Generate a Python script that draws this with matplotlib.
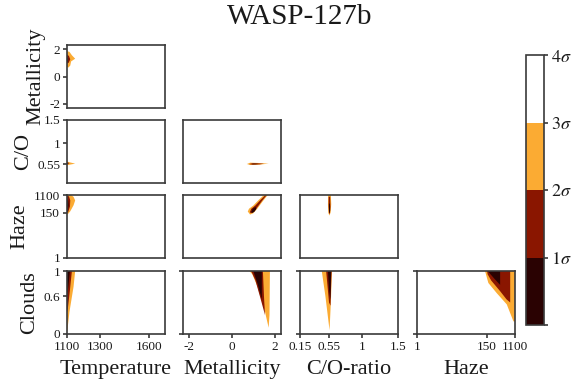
import matplotlib
matplotlib.use("Agg")
import matplotlib.pyplot as plt
from matplotlib.colors import ListedColormap, BoundaryNorm
from matplotlib.ticker import NullLocator
import matplotlib.cm as cm

plt.rcParams['font.family'] = ['Liberation Serif', 'DejaVu Serif']
plt.rcParams['mathtext.fontset'] = 'stix'

# ---------------- data ----------------
title = "WASP-127b"
params = ["Temperature", "Metallicity", "C/O-ratio", "Haze"]
row_labels = ["Metallicity", "C/O", "Haze", "Clouds"]

temp_lim = (1100, 1700)
met_lim = (-2.3, 2.3)
co_lim = (0.15, 1.5)
haze_lim = (1, 1100)
cloud_lim = (0, 1)

temp_ticks = [1100, 1300, 1600]
met_ticks = [-2, 0, 2]
co_ticks = [0.15, 0.55, 1, 1.5]
co_yticks = [0.55, 1, 1.5]
haze_ticks = [1, 150, 1100]
cloud_ticks = [0, 0.6, 1]

sigma_levels = [0, 1, 2, 3, 4]
sigma_labels = ["", r"$1\sigma$", r"$2\sigma$", r"$3\sigma$", r"$4\sigma$"]
sigma_colors = ["#2a0202", "#8a1600", "#fbab33", "#ffffff"]

# confidence-region outlines (x, y) per panel: keys are sigma levels
temp_met = {
    3: [(1100, 1.85), (1115, 1.8), (1130, 1.55), (1150, 1.3), (1125, 1.1), (1120, 0.8), (1108, 0.65), (1100, 0.7)],
    2: [(1100, 1.6), (1112, 1.5), (1120, 1.25), (1110, 1.0), (1100, 0.95)],
    1: [(1100, 1.45), (1108, 1.3), (1105, 1.1), (1100, 1.05)],
}
temp_co = {
    3: [(1100, 0.61), (1120, 0.59), (1150, 0.565), (1120, 0.545), (1100, 0.53)],
    2: [(1100, 0.595), (1115, 0.575), (1100, 0.55)],
    1: [(1100, 0.585), (1108, 0.572), (1100, 0.56)],
}
met_co = {
    3: [(0.7, 0.557), (0.85, 0.585), (1.2, 0.58), (1.72, 0.565), (1.2, 0.54), (0.85, 0.535)],
    2: [(0.8, 0.556), (0.95, 0.572), (1.3, 0.568), (1.5, 0.562), (1.3, 0.55), (0.95, 0.545)],
    1: [(0.92, 0.557), (1.02, 0.564), (1.18, 0.562), (1.25, 0.558), (1.1, 0.552), (0.98, 0.551)],
}
temp_haze = {
    3: [(1100, 1100), (1125, 1100), (1140, 900), (1150, 600), (1140, 350), (1120, 180), (1105, 130), (1100, 130)],
    2: [(1100, 1000), (1112, 950), (1120, 600), (1118, 300), (1108, 170), (1100, 150)],
    1: [(1100, 700), (1107, 600), (1110, 350), (1105, 200), (1100, 170)],
}
met_haze = {
    3: [(0.74, 175), (0.8, 240), (1.0, 340), (1.25, 630), (1.5, 1100), (1.68, 1100), (1.45, 560), (1.2, 250), (1.0, 145), (0.85, 125)],
    2: [(0.84, 165), (0.9, 235), (1.1, 345), (1.35, 650), (1.57, 1080), (1.62, 1060), (1.4, 560), (1.15, 250), (0.98, 158), (0.88, 145)],
    1: [(0.9, 165), (0.97, 235), (1.1, 290), (1.15, 240), (1.05, 170), (0.95, 150)],
}
co_haze = {
    3: [(0.538, 1100), (0.575, 1100), (0.58, 400), (0.572, 160), (0.556, 112), (0.54, 150), (0.535, 400)],
    2: [(0.545, 900), (0.565, 900), (0.57, 300), (0.562, 140), (0.55, 140), (0.544, 300)],
    1: [(0.549, 420), (0.562, 420), (0.565, 200), (0.558, 145), (0.55, 170)],
}
temp_cloud = {
    3: [(1100, 1), (1150, 1), (1140, 0.75), (1115, 0.35), (1102, 0.05), (1100, 0.05)],
    2: [(1100, 1), (1130, 1), (1118, 0.7), (1105, 0.4), (1100, 0.35)],
    1: [(1100, 1), (1118, 1), (1108, 0.75), (1100, 0.6)],
}
met_cloud = {
    3: [(0.82, 1), (1.78, 1), (1.76, 0.3), (1.72, 0.1), (1.55, 0.35), (1.2, 0.75), (0.95, 0.95)],
    2: [(0.9, 1), (1.45, 1), (1.5, 0.6), (1.55, 0.3), (1.35, 0.55), (1.1, 0.85)],
    1: [(1.0, 1), (1.4, 1), (1.4, 0.55), (1.2, 0.8)],
}
co_cloud = {
    3: [(0.45, 1), (0.59, 1), (0.575, 0.5), (0.557, 0.06), (0.5, 0.6)],
    2: [(0.51, 1), (0.585, 1), (0.57, 0.45), (0.55, 0.5)],
    1: [(0.535, 1), (0.58, 1), (0.568, 0.55), (0.55, 0.7)],
}
haze_cloud = {
    3: [(129, 1), (1100, 1), (1100, 0.2), (985, 0.2), (611, 0.47), (297, 0.65), (164, 0.81)],
    2: [(150, 1), (780, 1), (780, 0.5), (600, 0.55), (380, 0.68), (200, 0.85), (155, 0.95)],
    1: [(155, 1), (380, 1), (380, 0.78), (250, 0.88)],
}

panels = {
    (0, 0): temp_met,
    (1, 0): temp_co, (1, 1): met_co,
    (2, 0): temp_haze, (2, 1): met_haze, (2, 2): co_haze,
    (3, 0): temp_cloud, (3, 1): met_cloud, (3, 2): co_cloud, (3, 3): haze_cloud,
}

# ---------------- layout ----------------
W, H = 577, 388
fig = plt.figure(figsize=(W / 100, H / 100), dpi=100)

col_left = [67, 183, 300, 417]
row_top = [45, 120, 195, 271]
pw, ph = 98, 63

xlims = [temp_lim, met_lim, co_lim, haze_lim]
ylims = [met_lim, co_lim, haze_lim, cloud_lim]
xticks = [temp_ticks, met_ticks, co_ticks, haze_ticks]
yticks = [met_ticks, co_yticks, haze_ticks, cloud_ticks]
xlogs = [False, False, False, True]
ylogs = [False, False, True, False]

spine_c = "#3a3a3a"
text_c = "#1a1a1a"

def fmt(v):
    return ("%g" % v)

for r in range(4):
    for c in range(r + 1):
        ax = fig.add_axes([col_left[c] / W, 1 - (row_top[r] + ph) / H, pw / W, ph / H])
        if xlogs[c]:
            ax.set_xscale('log')
        if ylogs[r]:
            ax.set_yscale('log')
        data = panels[(r, c)]
        for lev, col in zip([3, 2, 1], [sigma_colors[2], sigma_colors[1], sigma_colors[0]]):
            xs = [p[0] for p in data[lev]]
            ys = [p[1] for p in data[lev]]
            ax.fill(xs, ys, color=col, lw=0, zorder=2)
        ax.set_xlim(xlims[c])
        ax.set_ylim(ylims[r])
        ax.xaxis.set_minor_locator(NullLocator())
        ax.yaxis.set_minor_locator(NullLocator())
        for s in ax.spines.values():
            s.set_color(spine_c)
            s.set_linewidth(1.2)
        ax.tick_params(direction='out', length=3, width=1.2, color=spine_c,
                       labelsize=9.5, labelcolor=text_c, pad=2)
        if r == 3:
            ax.set_xticks(xticks[c])
            ax.set_xticklabels([fmt(v) for v in xticks[c]])
            ax.set_xlabel(params[c], fontsize=16, color=text_c, labelpad=5)
        else:
            ax.set_xticks([])
        if c == 0:
            ax.set_yticks(yticks[r])
            ax.set_yticklabels([fmt(v) for v in yticks[r]])
            ax.set_ylabel(row_labels[r], fontsize=16, color=text_c, labelpad=3)
        elif r == 3:
            ax.set_yticks([0, 1])
            ax.set_yticklabels([])
        else:
            ax.set_yticks([])

fig.text(300 / W, 1 - 17 / H, title, ha='center', va='center', fontsize=21, color=text_c)

# colorbar
cax = fig.add_axes([526 / W, 1 - 325 / H, 18 / W, 270 / H])
cmap = ListedColormap(sigma_colors)
norm = BoundaryNorm(sigma_levels, cmap.N)
cb = fig.colorbar(cm.ScalarMappable(norm=norm, cmap=cmap), cax=cax, ticks=sigma_levels)
cb.set_ticklabels(sigma_labels)
cb.outline.set_edgecolor(spine_c)
cb.outline.set_linewidth(1.2)
cax.tick_params(direction='out', length=3, width=1.2, color=spine_c, labelsize=13, labelcolor=text_c, pad=2)

fig.savefig("out.png", dpi=100)
